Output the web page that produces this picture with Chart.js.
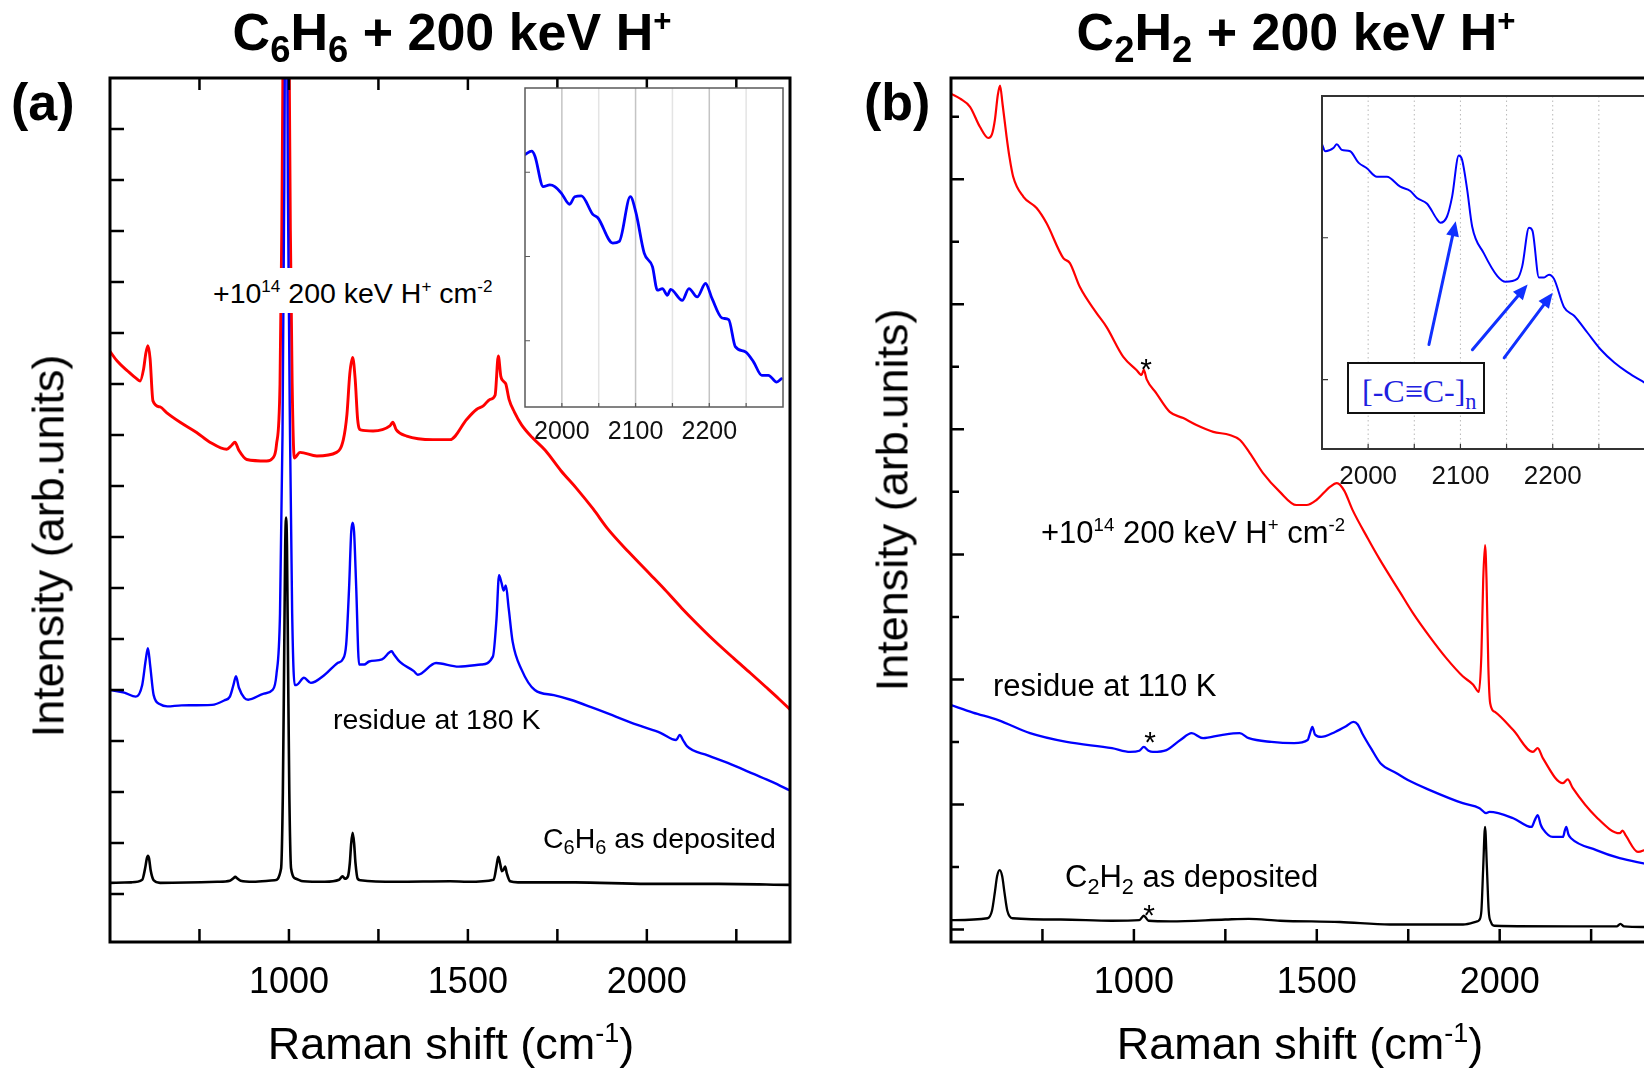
<!DOCTYPE html>
<html><head><meta charset="utf-8">
<script src="https://cdn.jsdelivr.net/npm/chart.js@4.4.1/dist/chart.umd.min.js"></script>
<style>
html,body{margin:0;padding:0;background:#fff;overflow:hidden;width:1644px;height:1070px}
#stage{position:relative;width:1644px;height:1070px;overflow:hidden;background:#fff}
canvas{position:absolute}
.t{position:absolute;white-space:nowrap;font-family:"Liberation Sans",Arial,Helvetica,sans-serif;line-height:1;color:#000}
.sub{font-size:0.7em;position:relative;top:0.32em;line-height:0}
.sup{font-size:0.6em;position:relative;top:-0.62em;line-height:0}
</style></head><body><div id="stage">
<canvas id="cA" width="822" height="1070" style="left:0px;top:0px"></canvas>
<canvas id="cB" width="830" height="1070" style="left:822px;top:0px"></canvas>
<canvas id="cIA" width="290" height="380" style="left:510px;top:80px"></canvas>
<canvas id="cIB" width="352" height="420" style="left:1300px;top:80px"></canvas>
</div>
<script>
// ================= DATA =================
const mainTickVals   = [750, 1000, 1250, 1500, 1750, 2000, 2250];
const mainTickLabels = [1000, 1500, 2000];
const insetTickVals   = [2000, 2050, 2100, 2150, 2200, 2250];
const insetTickLabels = [2000, 2100, 2200];
const aYTicks = [0,1,2,3,4,5,6,7,8,9,10,11,12,13,14,15];
const bYTicks = [0,1,2,3,4,5,6,7,8,9,10,11,12,13];
const insAYTicks = [1, 2, 3];
const insBYTicks = [1, 2];

// (a) C6H6 as deposited
const aDepX = [500,560,590,598,603,606,609,614,622,640, 800,835,845,850,855,865,900,960, 978,983,986.5,989.5,992,994.5,997.5,1001,1006, 1020,1040,1100,1140,1150,1156,1165,1170,1174,1178,1182,1186,1192,1200, 1300,1450,1500,1572,1580,1585,1590,1595,1600,1604,1609,1618,1640, 1800,2000,2200,2400];
const aDepY = [0.22,0.23,0.28,0.5,0.7,0.75,0.7,0.45,0.27,0.22, 0.24,0.26,0.31,0.34,0.31,0.26,0.24,0.27, 0.5,2,4.5,6.8,7.38,6.8,4.5,2,0.5, 0.3,0.25,0.24,0.28,0.35,0.3,0.35,0.6,1.0,1.2,1.0,0.6,0.3,0.27, 0.24,0.25,0.24,0.28,0.55,0.73,0.6,0.45,0.48,0.54,0.4,0.25,0.23, 0.23,0.2,0.2,0.18];
// (a) residue at 180 K
const aResX = [500,540,572,590,600,606,612,622,640,660, 700,785,820,835,845,852,860,875,886,930, 954,965,975,982,986,989.5,990.5,993.5,994.5,998, 1003,1009,1016,1021,1042,1061,1100,1136,1150,1160, 1168,1174,1178,1182,1188,1196,1210,1224,1260,1287, 1293,1310,1349,1360,1411,1474,1537,1570,1580,1587, 1594,1600,1606,1614,1625,1650,1687,1740,1787,1850, 1913,1980,2038,2082,2092,2101,2112,2170,2226,2300, 2350,2400];
const aResY = [4.0,3.95,3.87,4.1,4.6,4.82,4.5,3.9,3.72,3.68, 3.70,3.71,3.8,3.87,4.1,4.27,4.05,3.85,3.81,3.93, 4.0,4.3,5.5,9,13,18,24,24,18,13, 9,5.5,4.1,4.10,4.24,4.14,4.3,4.53,4.6,4.9, 6.0,7.1,7.28,7.1,6.0,4.5,4.5,4.56,4.6,4.76, 4.7,4.55,4.37,4.30,4.53,4.46,4.5,4.66,5.4,6.25, 6.1,5.95,6.05,5.6,4.95,4.40,4.0,3.9,3.81,3.65, 3.48,3.3,3.16,3.02,3.12,3.02,2.9,2.72,2.57,2.35, 2.2,2.03];
// (a) +1e14 200 keV H+ cm-2
const aIrrX = [500,520,550,575,584,594,600,606,612,620, 640,658,696,742,779,826,840,849,860,882, 938,955,965,975,980,984,987,997,1000,1004, 1009,1015,1031,1078,1133,1152,1162,1170,1178,1185, 1192,1200,1235,1282,1290,1300,1329,1402,1450,1497, 1524,1543,1562,1576,1585,1592,1600,1606,1615,1630, 1650,1680,1716,1760,1804,1850,1892,1950,2009,2050, 2097,2140,2185,2243,2290,2331,2370,2400];
const aIrrY = [10.64,10.45,10.25,10.1,10.06,10.3,10.6,10.75,10.5,9.67, 9.55,9.44,9.25,9.05,8.86,8.72,8.8,8.86,8.7,8.52, 8.49,8.55,8.8,10,13,17,22,22,17,13, 10,8.55,8.66,8.59,8.66,8.91,9.4,10.2,10.52,10.1, 9.3,9.1,9.08,9.18,9.25,9.1,8.98,8.91,8.91,9.31, 9.5,9.57,9.7,9.78,10.55,10.15,10.05,10.0,9.7,9.45, 9.2,8.95,8.7,8.3,7.95,7.55,7.15,6.7,6.27,5.97, 5.61,5.3,4.99,4.62,4.33,4.07,3.82,3.62];

// (b) C2H2 as deposited
const bDepX = [500,600,612,620,626,633,640,646,654,668, 800,940,1015,1027,1040,1100,1250,1314,1400,1563, 1700,1900,1938,1944,1950,1955,1960,1965,1970,1976, 1985,2200,2320,2330,2340,2400];
const bDepY = [0.15,0.18,0.3,0.6,0.85,0.95,0.85,0.6,0.3,0.18, 0.16,0.14,0.15,0.22,0.14,0.13,0.16,0.17,0.14,0.12, 0.08,0.08,0.13,0.15,0.3,1.0,1.64,1.0,0.3,0.12, 0.06,0.05,0.05,0.09,0.05,0.04];
// (b) residue at 110 K
const bResX = [500,560,629,716,816,940,990,1015,1027,1040, 1052,1089,1127,1158,1189,1239,1289,1314,1376,1438, 1475,1482,1488,1495,1512,1550,1580,1600,1612,1624, 1650,1674,1718,1749,1809,1899,1945,1963,1972,2037, 2087,2096,2104,2112,2118,2145,2173,2178,2182,2188, 2195,2264,2328,2400];
const bResY = [3.59,3.47,3.35,3.14,3.0,2.90,2.84,2.86,2.92,2.86, 2.84,2.87,3.03,3.14,3.06,3.11,3.14,3.06,3.0,2.98, 3.03,3.15,3.24,3.12,3.08,3.16,3.25,3.32,3.28,3.14, 2.88,2.66,2.50,2.39,2.23,2.02,1.94,1.86,1.88,1.78, 1.64,1.75,1.83,1.68,1.61,1.48,1.48,1.58,1.64,1.52, 1.46,1.27,1.14,1.05];
// (b) +1e14 200 keV H+ cm-2
const bIrrX = [500,525,552,579,602,612,620,628,634,641, 652,660,670,698,734,761,807,825,852,898, 925,971,1007,1021,1027,1035,1061,1098,1135,1171, 1217,1262,1290,1317,1353,1399,1444,1472,1499,1536, 1555,1575,1597,1640,1672,1727,1763,1809,1854,1899, 1927,1943,1950,1955,1960,1964,1969,1974,1987,2037, 2091,2104,2118,2173,2186,2200,2264,2328,2336,2345, 2378,2400];
const bIrrY = [13.37,13.29,13.16,12.84,12.66,12.72,12.95,13.35,13.5,13.2, 12.68,12.35,12.04,11.72,11.54,11.30,10.74,10.66,10.28,9.86, 9.64,9.16,8.95,8.87,8.95,8.80,8.58,8.28,8.18,8.07, 7.96,7.91,7.83,7.62,7.30,7.00,6.79,6.79,6.87,7.08, 7.14,7.02,6.72,6.25,5.92,5.40,5.06,4.68,4.34,4.05, 3.92,3.80,4.4,5.6,6.15,5.6,4.2,3.62,3.48,3.19, 2.84,2.90,2.74,2.34,2.40,2.26,1.80,1.54,1.58,1.50, 1.24,1.28];

// inset (a): residue at 180 K, 1950-2300
const insAX = [1950,1959,1963.5,1974.7,1983.7,1990.4,1999.5,2010.6,2017.4,2026.4, 2042,2048.8,2069,2078,2092.9,2100.5,2111.7,2122.9,2129.6,2136.4, 2143.1,2147.6,2163.3,2172.4,2183.6,2194.9,2203.8,2217.3,2226.3,2235.3, 2248.8,2260,2271.2,2280.2,2291.4,2298];
const insAY = [3.21,3.25,3.19,2.83,2.85,2.83,2.75,2.62,2.71,2.72, 2.50,2.46,2.16,2.18,2.71,2.52,2.04,1.88,1.60,1.62, 1.54,1.61,1.48,1.62,1.52,1.68,1.50,1.27,1.25,0.93, 0.87,0.75,0.59,0.59,0.51,0.55];
// inset (b): residue at 110 K, 1950-2300
const insBX = [1950,1953.6,1962.7,1966,1971.4,1980.5,1989.5,1998.6,2009.5,2020.3, 2034.8,2045.7,2053,2063.9,2074.7,2078.3,2085.5,2091,2098.2,2101.8, 2107.3,2112.7,2125.4,2140,2149,2161.6,2167,2174.3,2178,2185.1, 2190.6,2196,2201.4,2212.3,2223.2,2237.7,2252.2,2266.7,2281.2,2299];
const insBY = [2.66,2.61,2.635,2.66,2.62,2.61,2.53,2.49,2.43,2.43, 2.36,2.33,2.28,2.24,2.13,2.106,2.15,2.29,2.58,2.55, 2.34,2.08,1.89,1.73,1.69,1.71,1.80,2.07,2.05,1.72, 1.72,1.74,1.71,1.51,1.45,1.33,1.21,1.12,1.05,0.98];
// arrows in inset (b) (data units of the inset)
const arrX0 = [2065.9, 2113, 2147.4];
const arrY0 = [1.247, 1.21, 1.153];
const arrX1 = [2094.9, 2172.8, 2200];
const arrY1 = [2.117, 1.67, 1.612];

// ================= RENDERING =================
const FONT = '"Liberation Sans", Arial, Helvetica, sans-serif';
const RED = '#ff0000', BLUE = '#0000ff', BLACK = '#000000';

function pts(xs, ys) { return xs.map((v, i) => ({x: v, y: ys[i]})); }

function makeChart(id, cfg) {
  const deco = {
    id: 'deco',
    beforeDraw(chart) {
      if (!cfg.bg) return;
      const {ctx, chartArea: a} = chart;
      ctx.save(); ctx.fillStyle = cfg.bg;
      ctx.fillRect(a.left, a.top, a.right - a.left, a.bottom - a.top);
      ctx.restore();
    },
    beforeDatasetsDraw(chart) {
      if (!cfg.grid) return;
      const {ctx, chartArea: a, scales} = chart;
      ctx.save();
      for (const g of cfg.grid) {
        const px = scales.x.getPixelForValue(g.v);
        ctx.strokeStyle = g.color; ctx.lineWidth = g.width; ctx.setLineDash(g.dash || []);
        ctx.beginPath(); ctx.moveTo(px, a.top); ctx.lineTo(px, a.bottom); ctx.stroke();
      }
      ctx.restore();
    },
    afterDraw(chart) {
      const {ctx, chartArea: a, scales} = chart;
      ctx.save();
      ctx.strokeStyle = cfg.frameColor; ctx.lineWidth = cfg.tickWidth; ctx.lineCap = 'butt';
      ctx.beginPath();
      for (const t of (cfg.bottomTicks || [])) { const p = scales.x.getPixelForValue(t.v); ctx.moveTo(p, a.bottom); ctx.lineTo(p, a.bottom - t.len); }
      for (const t of (cfg.topTicks || [])) { const p = scales.x.getPixelForValue(t.v); ctx.moveTo(p, a.top); ctx.lineTo(p, a.top + t.len); }
      for (const t of (cfg.leftTicks || [])) { const p = scales.y.getPixelForValue(t.v); ctx.moveTo(a.left, p); ctx.lineTo(a.left + t.len, p); }
      ctx.stroke();
      ctx.lineWidth = cfg.frameWidth;
      ctx.strokeRect(a.left, a.top, a.right - a.left, a.bottom - a.top);
      if (cfg.arrows) {
        ctx.strokeStyle = cfg.arrows.color; ctx.fillStyle = cfg.arrows.color;
        ctx.lineWidth = cfg.arrows.width; ctx.lineCap = 'round';
        for (let i = 0; i < cfg.arrows.x0.length; i++) {
          const x0 = scales.x.getPixelForValue(cfg.arrows.x0[i]), y0 = scales.y.getPixelForValue(cfg.arrows.y0[i]);
          const x1 = scales.x.getPixelForValue(cfg.arrows.x1[i]), y1 = scales.y.getPixelForValue(cfg.arrows.y1[i]);
          const ang = Math.atan2(y1 - y0, x1 - x0), L = 15, W = 6.5;
          const bx = x1 - L * Math.cos(ang), by = y1 - L * Math.sin(ang);
          ctx.beginPath(); ctx.moveTo(x0, y0); ctx.lineTo(bx, by); ctx.stroke();
          ctx.beginPath(); ctx.moveTo(x1, y1);
          ctx.lineTo(bx + W * Math.sin(ang), by - W * Math.cos(ang));
          ctx.lineTo(bx - W * Math.sin(ang), by + W * Math.cos(ang));
          ctx.closePath(); ctx.fill();
        }
      }
      ctx.restore();
    }
  };
  return new Chart(document.getElementById(id), {
    type: 'line',
    data: {
      datasets: cfg.series.map(s => ({
        data: pts(s.x, s.y), borderColor: s.color, borderWidth: s.width,
        pointRadius: 0, fill: false, cubicInterpolationMode: 'monotone',
        borderJoinStyle: 'round', borderCapStyle: 'round'
      }))
    },
    options: {
      responsive: false, animation: false, devicePixelRatio: 1, events: [],
      layout: {padding: cfg.padding},
      plugins: {legend: {display: false}, tooltip: {enabled: false}, title: {display: false}},
      scales: {
        x: {
          type: 'linear', min: cfg.xMin, max: cfg.xMax,
          grid: {display: false}, border: {display: false},
          afterBuildTicks: s => { s.ticks = cfg.xTickVals.map(v => ({value: v})); },
          afterFit: s => { s.height = cfg.xH; s.paddingLeft = 0; s.paddingRight = 0; },
          ticks: {
            autoSkip: false, maxRotation: 0, minRotation: 0, padding: cfg.tickPad, color: cfg.tickColor || '#000',
            font: {family: FONT, size: cfg.tickFont},
            callback: v => (cfg.xLabels.indexOf(v) >= 0 ? String(v) : '')
          }
        },
        y: {type: 'linear', display: false, min: cfg.yMin, max: cfg.yMax}
      }
    },
    plugins: [deco]
  });
}

// ---- panel (a)
makeChart('cA', {
  padding: {left: 110, top: 78, right: 32, bottom: 0}, xH: 128,
  xMin: 500, xMax: 2400, yMin: -0.94, yMax: 16.0,
  xTickVals: mainTickVals, xLabels: mainTickLabels, tickPad: 11, tickFont: 36,
  series: [
    {x: aDepX, y: aDepY, color: BLACK, width: 2.6},
    {x: aResX, y: aResY, color: BLUE, width: 2.4},
    {x: aIrrX, y: aIrrY, color: RED, width: 2.9}
  ],
  frameColor: '#000', frameWidth: 3, tickWidth: 2.5,
  bottomTicks: mainTickVals.map(v => ({v, len: 13})),
  topTicks: mainTickVals.map(v => ({v, len: 12})),
  leftTicks: aYTicks.map(v => ({v, len: 14}))
});

// ---- panel (b)
makeChart('cB', {
  padding: {left: 129, top: 78, right: 6, bottom: 0}, xH: 128,
  xMin: 500, xMax: 2400, yMin: -0.2, yMax: 13.62,
  xTickVals: mainTickVals, xLabels: mainTickLabels, tickPad: 11, tickFont: 36,
  series: [
    {x: bDepX, y: bDepY, color: BLACK, width: 2.3},
    {x: bResX, y: bResY, color: BLUE, width: 2.3},
    {x: bIrrX, y: bIrrY, color: RED, width: 2.2}
  ],
  frameColor: '#000', frameWidth: 3, tickWidth: 2.5,
  bottomTicks: mainTickVals.map(v => ({v, len: 13})),
  leftTicks: bYTicks.map(v => ({v, len: (v % 2 === 0 ? 13 : 8)}))
});

// ---- inset (a)
makeChart('cIA', {
  padding: {left: 15, top: 8, right: 17, bottom: 0}, xH: 53,
  xMin: 1950, xMax: 2300, yMin: 0.214, yMax: 4.0,
  xTickVals: insetTickVals, xLabels: insetTickLabels, tickPad: 2, tickFont: 25, tickColor: '#111',
  series: [{x: insAX, y: insAY, color: BLUE, width: 2.8}],
  bg: '#ffffff',
  grid: insetTickVals.map(v => ({v, color: (v % 100 === 0 ? '#c4c4c4' : '#e4e4e4'), width: 1.5})),
  frameColor: '#5a5a5a', frameWidth: 1.5, tickWidth: 1.2,
  bottomTicks: insetTickVals.map(v => ({v, len: 4})),
  leftTicks: insAYTicks.map(v => ({v, len: 5}))
});

// ---- inset (b)
makeChart('cIB', {
  padding: {left: 22, top: 16, right: 7, bottom: 0}, xH: 51,
  xMin: 1950, xMax: 2300, yMin: 0.51, yMax: 3.0,
  xTickVals: insetTickVals, xLabels: insetTickLabels, tickPad: 4, tickFont: 26, tickColor: '#111',
  series: [{x: insBX, y: insBY, color: BLUE, width: 2.0}],
  bg: '#ffffff',
  grid: insetTickVals.map(v => ({v, color: '#b8b8b8', width: 1, dash: [1.5, 3]})),
  frameColor: '#333', frameWidth: 2, tickWidth: 1.2,
  bottomTicks: insetTickVals.map(v => ({v, len: 5})),
  leftTicks: insBYTicks.map(v => ({v, len: 6})),
  arrows: {x0: arrX0, y0: arrY0, x1: arrX1, y1: arrY1, color: '#1030ff', width: 3}
});

// ================= TEXT =================
const stage = document.getElementById('stage');
function addText(html, x, baseline, size, o) {
  o = o || {};
  const d = document.createElement('div');
  d.className = 't';
  d.innerHTML = html;
  d.style.fontSize = size + 'px';
  if (o.bold) d.style.fontWeight = 'bold';
  if (o.serif) d.style.fontFamily = '"Liberation Serif", "Times New Roman", serif';
  if (o.color) d.style.color = o.color;
  const asc = o.serif ? 0.8375 : 0.8465;
  const pt = o.padTop || 0, pl = o.padLeft || 0;
  d.style.top = (baseline - asc * size - pt) + 'px';
  d.style.left = (x - pl) + 'px';
  if (o.center) d.style.transform = 'translateX(-50%)';
  if (o.bg) { d.style.background = o.bg; d.style.padding = pt + 'px ' + pl + 'px ' + (o.padBottom || 0) + 'px ' + pl + 'px'; }
  stage.appendChild(d);
  return d;
}
function addVText(text, cx, cy, size) {
  const d = document.createElement('div');
  d.className = 't';
  d.textContent = text;
  d.style.fontSize = size + 'px';
  d.style.left = cx + 'px'; d.style.top = cy + 'px';
  d.style.transform = 'translate(-50%,-50%) rotate(-90deg)';
  stage.appendChild(d);
}
const S = s => '<span class="sub">' + s + '</span>';
const P = s => '<span class="sup">' + s + '</span>';

// titles and panel letters
addText('C' + S('6') + 'H' + S('6') + ' + 200 keV H' + P('+'), 452, 50, 52, {bold: true, center: true});
addText('C' + S('2') + 'H' + S('2') + ' + 200 keV H' + P('+'), 1296, 50, 52, {bold: true, center: true});
addText('(a)', 11, 120, 52, {bold: true});
addText('(b)', 864, 120, 52, {bold: true});

// axis titles
addText('Raman shift (cm' + P('-1') + ')', 451, 1059, 45, {center: true});
addText('Raman shift (cm' + P('-1') + ')', 1300, 1059, 45, {center: true});
addVText('Intensity (arb.units)', 48, 546, 45);
addVText('Intensity (arb.units)', 892, 500, 45);

// panel (a) annotations
addText('+10' + P('14') + ' 200 keV H' + P('+') + ' cm' + P('-2'), 213, 303, 28.5, {bg: '#fff', padTop: 11, padLeft: 3, padBottom: 6});
addText('residue at 180 K', 333, 729, 28.5);
addText('C' + S('6') + 'H' + S('6') + ' as deposited', 543, 848, 28.5);

// panel (b) annotations
addText('+10' + P('14') + ' 200 keV H' + P('+') + ' cm' + P('-2'), 1041, 543, 31);
addText('residue at 110 K', 993, 696, 31);
addText('C' + S('2') + 'H' + S('2') + ' as deposited', 1065, 887, 31);
addText('*', 1146, 379, 30, {center: true});
addText('*', 1150, 752, 30, {center: true});
addText('*', 1149, 925, 30, {center: true});

// boxed label in inset (b)
const box = document.createElement('div');
box.style.cssText = 'position:absolute;left:1347px;top:362px;width:134px;height:48px;border:2px solid #111;background:#fff';
stage.appendChild(box);
addText('[-C≡C-]' + S('n'), 1362, 402, 32, {serif: true, color: '#2020e0'});
</script>
</body></html>
